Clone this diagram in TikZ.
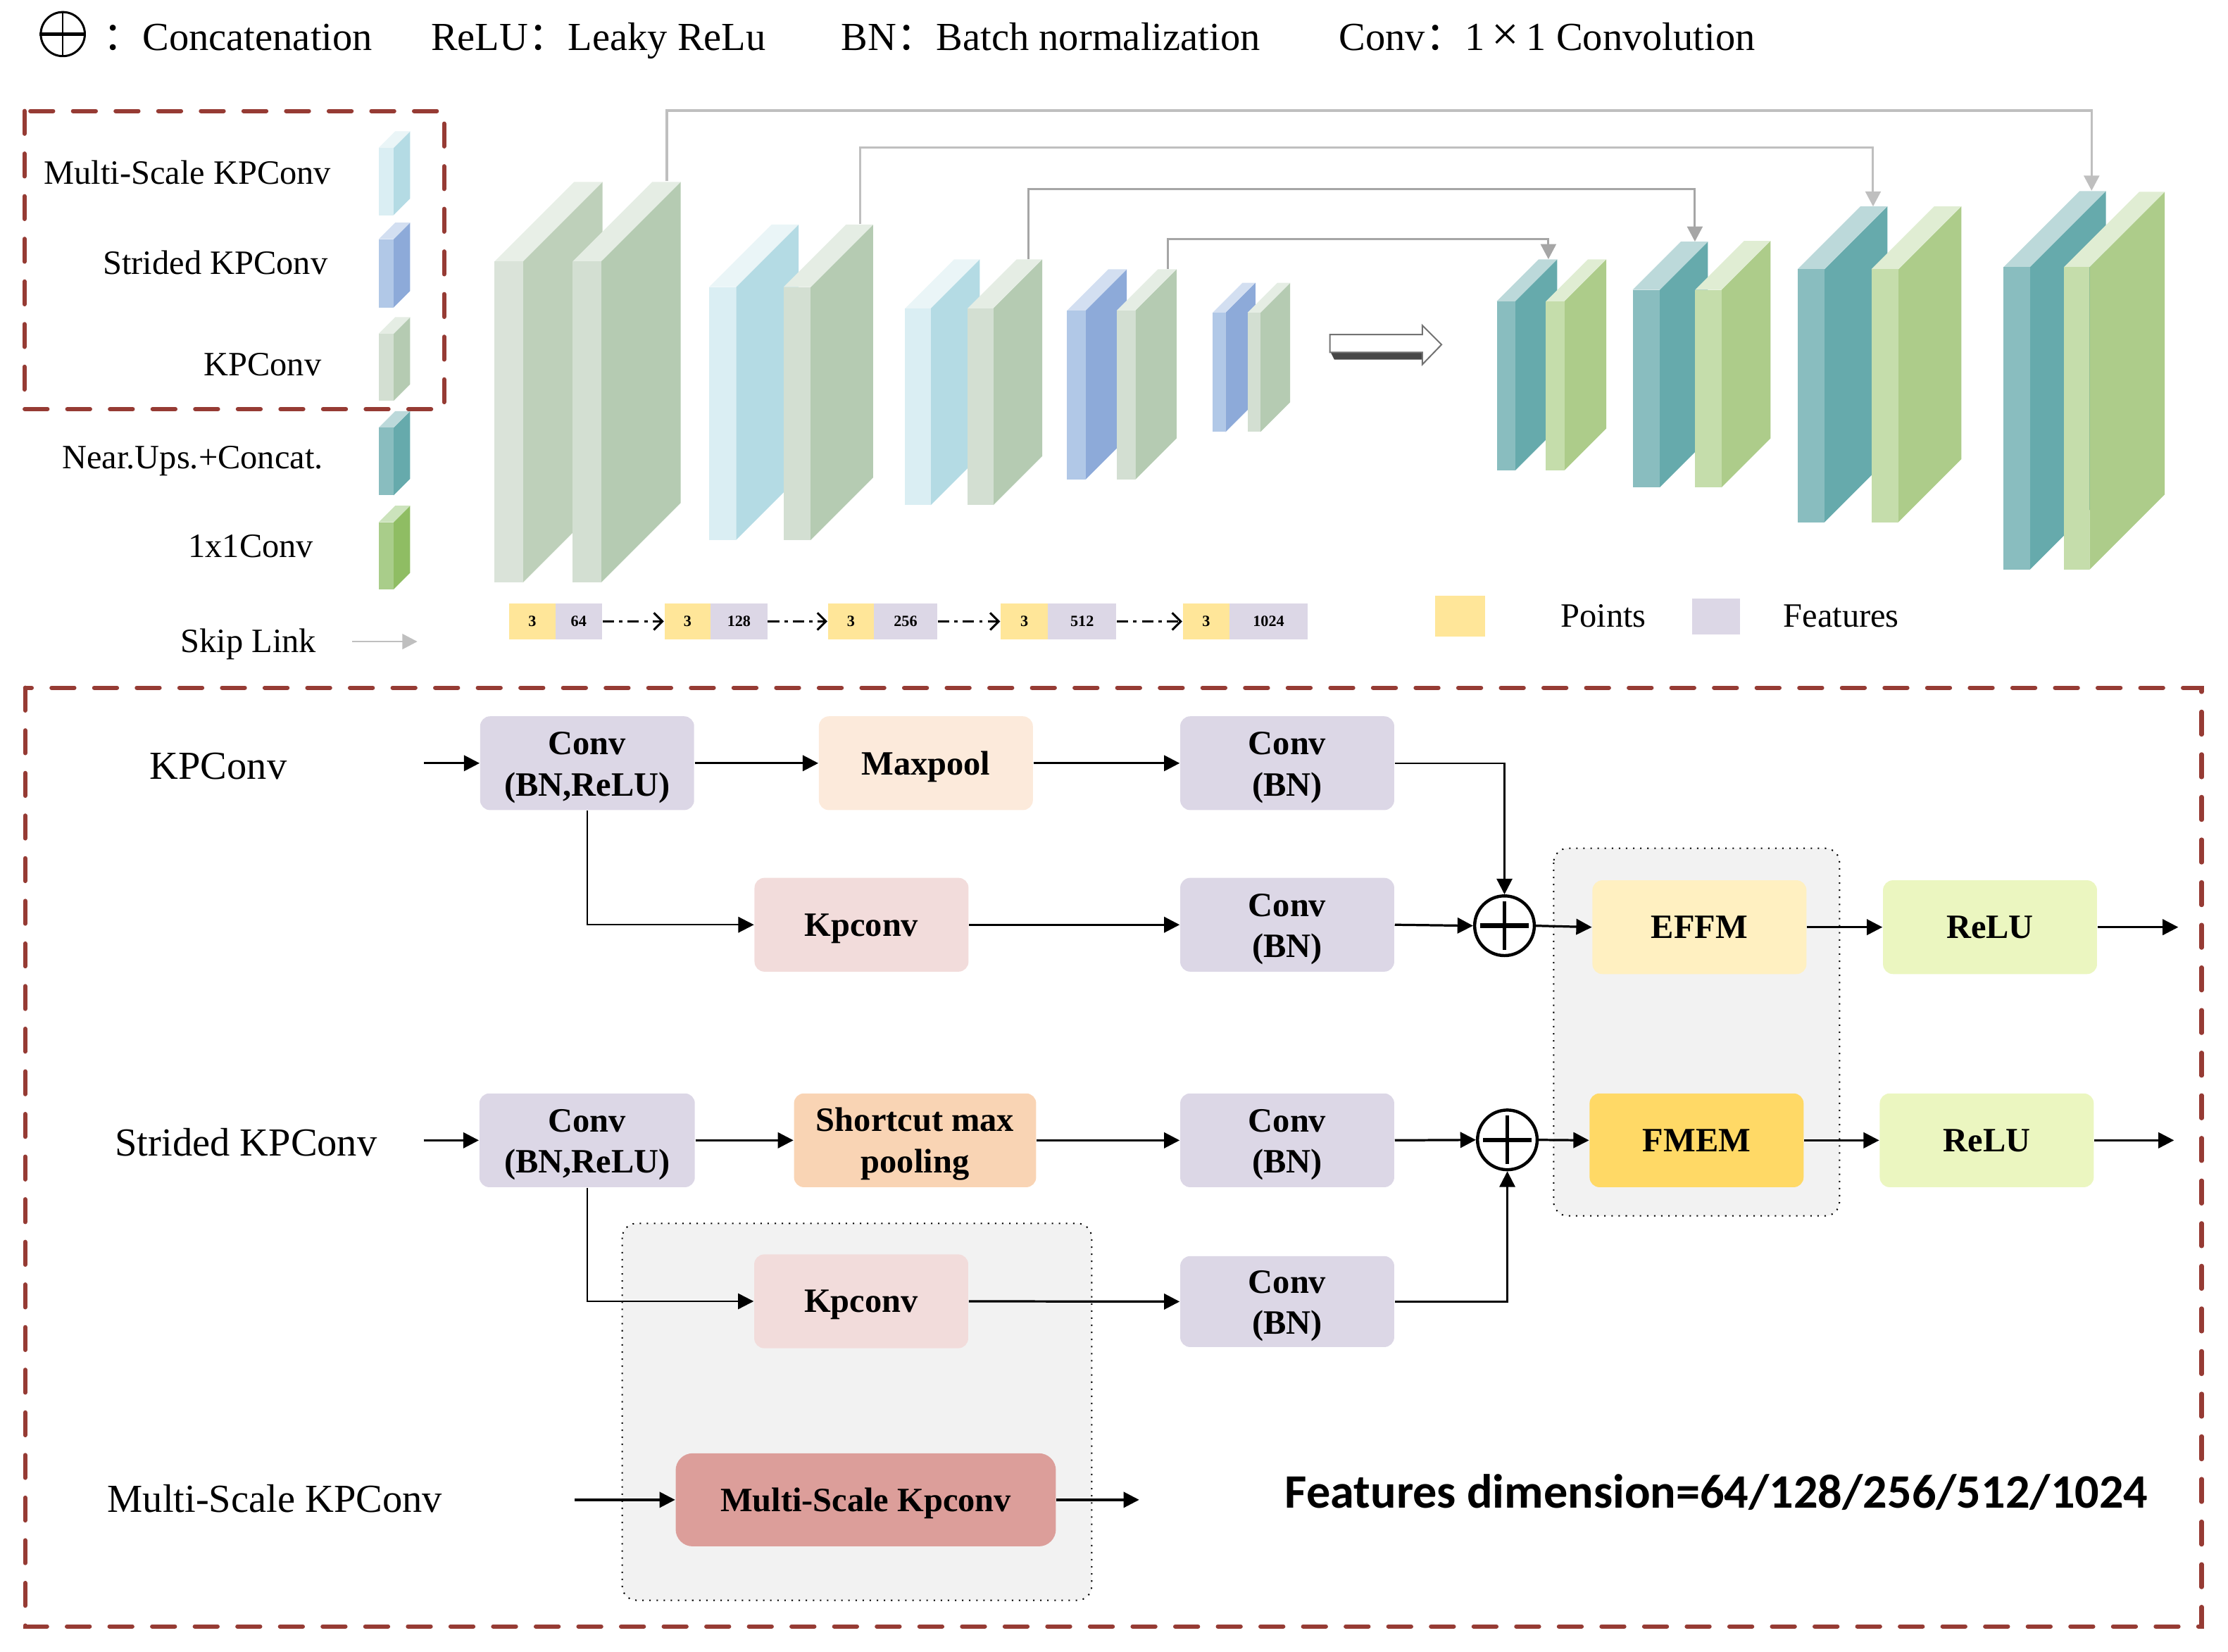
\documentclass[tikz,border=0pt]{standalone}
\usepackage{fontspec}
\setmainfont{Liberation Serif}
\newfontfamily\cjk{Noto Sans CJK SC}
\newfontfamily\carl{Carlito}
\usetikzlibrary{arrows.meta}
\definecolor{dashred}{RGB}{150,59,52}
\definecolor{lav}{RGB}{220,215,230}
\definecolor{ptyel}{RGB}{255,230,153}
\definecolor{maxc}{RGB}{252,234,219}
\definecolor{kpc}{RGB}{242,220,219}
\definecolor{smpc}{RGB}{249,212,180}
\definecolor{effmc}{RGB}{255,240,193}
\definecolor{fmemc}{RGB}{255,217,102}
\definecolor{reluc}{RGB}{235,246,192}
\definecolor{mskc}{RGB}{220,158,154}
\definecolor{grp}{RGB}{242,242,242}
\definecolor{skipA}{RGB}{191,191,191}
\definecolor{skipB}{RGB}{166,166,166}
\definecolor{kpF}{RGB}{211,223,210}\definecolor{kpS}{RGB}{181,203,178}\definecolor{kpT}{RGB}{229,237,228}
\definecolor{kqF}{RGB}{218,227,217}\definecolor{kqS}{RGB}{190,208,186}\definecolor{kqT}{RGB}{232,239,231}
\definecolor{msF}{RGB}{218,238,243}\definecolor{msS}{RGB}{180,219,228}\definecolor{msT}{RGB}{234,245,247}
\definecolor{stF}{RGB}{177,200,231}\definecolor{stS}{RGB}{141,170,217}\definecolor{stT}{RGB}{211,223,241}
\definecolor{tlF}{RGB}{137,189,191}\definecolor{tlS}{RGB}{102,170,172}\definecolor{tlT}{RGB}{188,217,218}
\definecolor{gnF}{RGB}{197,221,171}\definecolor{gnS}{RGB}{173,204,138}\definecolor{gnT}{RGB}{224,237,211}
\definecolor{glF}{RGB}{169,205,138}\definecolor{glS}{RGB}{143,189,99}\definecolor{glT}{RGB}{204,227,188}
% x0, y0 (front top), y1 (front bottom), w, d, front, side, top
\newcommand{\drawblock}[8]{%
  \fill[#7] ({#1+#4},#2) -- ({#1+#4+#5},{#2-#5}) -- ({#1+#4+#5},{#3-#5}) -- ({#1+#4},#3) -- cycle;
  \fill[#8] (#1,#2) -- ({#1+#5},{#2-#5}) -- ({#1+#4+#5},{#2-#5}) -- ({#1+#4},#2) -- cycle;
  \fill[#6] (#1,#2) rectangle ({#1+#4},#3);}
\newcommand{\tstrut}{\rule{0pt}{11pt}}
\tikzset{
  lg/.style={inner sep=0, font=\fontsize{14}{16}\selectfont, anchor=base west},
  ll/.style={inner sep=0, font=\fontsize{12}{14}\selectfont, anchor=base east},
  bl/.style={inner sep=0, font=\fontsize{14}{16}\selectfont, anchor=base west},
  fbox/.style={rounded corners=3.5pt, inner sep=0, minimum width=75.3pt, minimum height=33pt, align=center, font=\bfseries\fontsize{12}{14.5}\selectfont},
  onel/.style={text depth=0pt},
  arr/.style={-{Triangle[length=5.5pt,width=5.5pt]}, line width=0.8pt},
  thinarr/.style={-{Triangle[length=5.5pt,width=5.5pt]}, line width=0.6pt},
  skipline/.style={line width=0.75pt, -{Triangle[length=5.3pt,width=5.4pt]}},
  dd/.style={line width=0.75pt, dash pattern=on 4pt off 1.8pt on 1.2pt off 1.8pt, -{Straight Barb[length=3pt,width=6pt]}},
  dimbox/.style={inner sep=0, minimum height=12.8pt, font=\bfseries\fontsize{5.5}{6}\selectfont},
  plusc/.style={circle, draw, line width=1.1pt, minimum size=21pt, inner sep=0},
  grpbox/.style={fill=grp, draw=black, dotted, line width=0.5pt, rounded corners=5pt},
  dashbox/.style={draw=dashred, line width=1.5pt, dash pattern=on 8pt off 7pt, line cap=round}
}
\begin{document}
\begin{tikzpicture}[x=0.5pt,y=-0.5pt]
\useasboundingbox (0,0) rectangle (1568,1162.6);
% ---------- top legend line ----------
\node[circle, draw, line width=0.75pt, minimum size=15.5pt, inner sep=0] (lplus) at (44.2,24) {};
\draw[line width=1.2pt] (lplus.west) -- (lplus.east);
\draw[line width=0.6pt] (lplus.north) -- (lplus.south);
\node[lg] (t1) at (72,35.2) {{\cjk ：}Concatenation};
\node[lg] (t2) at (303,35.2) {ReLU{\cjk ：}Leaky ReLu};
\node[lg] (t3) at (591.7,35.2) {BN{\cjk ：}Batch normalization};
\node[lg] (t4) at (942,35.2) {Conv{\cjk ：}1\kern2.5pt{\fontsize{17}{17}\selectfont ×}\kern2.5pt1 Convolution};
% ---------- left legend ----------
\drawblock{266.5}{104}{151.4}{10.5}{11.6}{msF}{msS}{msT}
\drawblock{266.5}{168.3}{216.4}{10.5}{11.6}{stF}{stS}{stT}
\drawblock{266.5}{234.8}{282}{10.5}{11.6}{kpF}{kpS}{kpT}
\drawblock{266.5}{301}{348.6}{10.5}{11.6}{tlF}{tlS}{tlT}
\drawblock{266.5}{367.5}{414.8}{10.5}{11.6}{glF}{glS}{glT}
\node[ll] (l1) at (233.3,129.4) {Multi-Scale KPConv};
\node[ll] (l2) at (231,193.1) {Strided KPConv};
\node[ll] (l3) at (226.6,264.4) {KPConv};
\node[ll] (l4) at (227.7,329.6) {Near.Ups.+Concat.};
\node[ll] (l5) at (221,392.3) {1x1Conv};
\node[ll] (l6) at (223,459) {Skip Link};
\coordinate (sk1) at (247.7,451.5);
\coordinate (sk2) at (293.7,451.5);
\draw[skipline, skipA, line width=0.6pt] (sk1) -- (sk2);
\draw[dashbox] (17.2,78.1) rectangle (312.5,287.9);
% ---------- encoder blocks ----------
\drawblock{348}{184}{410}{20}{56}{kqF}{kqS}{kqT}
\drawblock{403}{184}{410}{20}{56}{kpF}{kpS}{kpT}
\drawblock{499}{202}{380}{19}{44}{msF}{msS}{msT}
\drawblock{551.5}{202}{380}{19}{44}{kpF}{kpS}{kpT}
\drawblock{637}{217}{355.5}{18}{34.5}{msF}{msS}{msT}
\drawblock{681}{217}{355.5}{18}{34.5}{kpF}{kpS}{kpT}
\drawblock{751}{218.5}{337.5}{13}{29}{stF}{stS}{stT}
\drawblock{786}{218.5}{337.5}{13}{29}{kpF}{kpS}{kpT}
\drawblock{853.5}{220}{304}{9}{21}{stF}{stS}{stT}
\drawblock{878}{220}{304}{9}{21}{kpF}{kpS}{kpT}
% ---------- decoder blocks ----------
\drawblock{1053.4}{212}{331}{13}{29.5}{tlF}{tlS}{tlT}
\drawblock{1088}{212}{331}{13}{29.5}{gnF}{gnS}{gnT}
\drawblock{1149}{204}{343}{19}{34}{tlF}{tlS}{tlT}
\drawblock{1193}{204}{343}{18.5}{34.5}{gnF}{gnS}{gnT}
\drawblock{1265}{189.5}{367.5}{19}{44.3}{tlF}{tlS}{tlT}
\drawblock{1317}{189.5}{367.5}{19}{44.3}{gnF}{gnS}{gnT}
\drawblock{1410}{188}{401}{18.5}{53.5}{tlF}{tlS}{tlT}
\drawblock{1452.5}{188}{401}{18}{53}{gnF}{gnS}{gnT}
% ---------- skip links ----------
\coordinate (s1a) at (469.3,127.4); \coordinate (s1m) at (469.3,77.8); \coordinate (s1b) at (1472,134.2);
\coordinate (s2a) at (605.5,157.5); \coordinate (s2m) at (605.5,103.7); \coordinate (s2b) at (1318.2,145.3);
\coordinate (s3a) at (724,182.3); \coordinate (s3m) at (724,133); \coordinate (s3b) at (1192.8,170);
\coordinate (s4a) at (822,189.3); \coordinate (s4m) at (822,168.3); \coordinate (s4b) at (1089.7,182.4);
\draw[skipline, skipA] (s1a) -- (s1m) -| (s1b);
\draw[skipline, skipA] (s2a) -- (s2m) -| (s2b);
\draw[skipline, skipB] (s3a) -- (s3m) -| (s3b);
\draw[skipline, skipB] (s4a) -- (s4m) -| (s4b);
% ---------- big 3D arrow ----------
\fill[black!72] (936,247) -- (1001,247) -- (1001,253) -- (939,253) -- cycle;
\filldraw[fill=white, draw=black!55, line width=0.5pt] (936,235.5) -- (1001,235.5) -- (1001,229) -- (1014.5,242.5) -- (1001,256.5) -- (1001,248) -- (936,248) -- cycle;
% ---------- dimension row ----------
\node[dimbox, fill=ptyel, minimum width=16.2pt] (p1) at (374.6,437.3) {3};
\node[dimbox, fill=lav, minimum width=16.45pt] (f1) at (407.25,437.3) {64};
\node[dimbox, fill=ptyel, minimum width=16.25pt] (p2) at (483.85,437.3) {3};
\node[dimbox, fill=lav, minimum width=19.95pt] (f2) at (520.05,437.3) {128};
\node[dimbox, fill=ptyel, minimum width=16.2pt] (p3) at (598.9,437.3) {3};
\node[dimbox, fill=lav, minimum width=22.2pt] (f3) at (637.3,437.3) {256};
\node[dimbox, fill=ptyel, minimum width=16.6pt] (p4) at (720.9,437.3) {3};
\node[dimbox, fill=lav, minimum width=24.05pt] (f4) at (761.55,437.3) {512};
\node[dimbox, fill=ptyel, minimum width=16.45pt] (p5) at (848.85,437.3) {3};
\node[dimbox, fill=lav, minimum width=27.5pt] (f5) at (892.8,437.3) {1024};
\draw[dd] (f1.east) -- (p2.west);
\draw[dd] (f2.east) -- (p3.west);
\draw[dd] (f3.east) -- (p4.west);
\draw[dd] (f4.east) -- (p5.west);
\node[inner sep=0, fill=ptyel, minimum width=17.5pt, minimum height=14.5pt] (ptsw) at (1027.5,433.5) {};
\node[inner sep=0, fill=lav, minimum width=16.75pt, minimum height=12.75pt] (ftsw) at (1207.75,433.75) {};
\node[inner sep=0, anchor=base west, font=\fontsize{12}{14}\selectfont] (ptsl) at (1098,441.5) {Points};
\node[inner sep=0, anchor=base west, font=\fontsize{12}{14}\selectfont] (ftsl) at (1254.7,441.5) {Features};
% ---------- bottom section ----------
\draw[dashbox] (17.7,484) rectangle (1549.4,1144.6);
\draw[grpbox] (1093.4,597) rectangle (1294.6,855.7);
\draw[grpbox] (437.9,861) rectangle (768.3,1126.2);
\node[bl] (lb1) at (105,548.4) {KPConv};
\node[bl] (lb2) at (80.6,813.4) {Strided KPConv};
\node[bl] (lb3) at (75.2,1064.2) {Multi-Scale KPConv};
\node[fbox, fill=lav] (cbr1) at (413.2,537.1) {\tstrut Conv\\(BN,ReLU)};
\node[fbox, onel, fill=maxc] (maxp) at (651.6,537.1) {Maxpool};
\node[fbox, fill=lav] (cbn1) at (905.9,537.1) {\tstrut Conv\\(BN)};
\node[fbox, onel, fill=kpc] (kp1) at (606.3,650.8) {Kpconv};
\node[fbox, fill=lav] (cbn2) at (905.9,650.8) {\tstrut Conv\\(BN)};
\node[plusc] (plus1) at (1058.8,651.5) {};
\node[fbox, onel, fill=effmc] (effm) at (1196,652.5) {EFFM};
\node[fbox, onel, fill=reluc] (relu1) at (1400.5,652.5) {ReLU};
\node[fbox, fill=lav, minimum width=75.8pt] (cbr2) at (413.2,802.5) {\tstrut Conv\\(BN,ReLU)};
\node[fbox, fill=smpc, minimum width=85.2pt] (smp) at (644,802.5) {\tstrut Shortcut max\\pooling};
\node[fbox, fill=lav] (cbn3) at (905.9,802.5) {\tstrut Conv\\(BN)};
\node[plusc] (plus2) at (1060.8,802.2) {};
\node[fbox, onel, fill=fmemc] (fmem) at (1194,802.5) {FMEM};
\node[fbox, onel, fill=reluc] (relu2) at (1398.2,802.5) {ReLU};
\node[fbox, onel, fill=kpc] (kp2) at (606.1,915.8) {Kpconv};
\node[fbox, fill=lav, minimum height=32pt] (cbn4) at (905.9,916) {\tstrut Conv\\(BN)};
\node[fbox, onel, fill=mskc, minimum width=133.8pt, minimum height=32.75pt, rounded corners=6pt] (mskp) at (609.3,1055.5) {Multi-Scale Kpconv};
\foreach \p in {plus1,plus2}{
  \draw[line width=1.6pt] ([xshift=-8.5pt]\p.center) -- ([xshift=8.5pt]\p.center);
  \draw[line width=1.3pt] ([yshift=-8.5pt]\p.center) -- ([yshift=8.5pt]\p.center);
}
\coordinate (in1) at (298.4,537.1);
\coordinate (in2) at (298.2,802.5);
\coordinate (in3) at (404.6,1055.5);
\coordinate (out1) at (1533,652.5);
\coordinate (out2) at (1530,802.5);
\coordinate (out3) at (801.7,1055.5);
\draw[arr] (in1) -- (cbr1.west);
\draw[arr] (cbr1.east) -- (maxp.west);
\draw[arr] (maxp.east) -- (cbn1.west);
\draw[thinarr] (cbn1.east) -| (plus1.north);
\draw[thinarr] (cbr1.south) |- (kp1.west);
\draw[arr] (kp1.east) -- (cbn2.west);
\draw[arr] (cbn2.east) -- (plus1.west);
\draw[arr] (plus1.east) -- (effm.west);
\draw[arr] (effm.east) -- (relu1.west);
\draw[arr] (relu1.east) -- (out1);
\draw[arr] (in2) -- (cbr2.west);
\draw[arr] (cbr2.east) -- (smp.west);
\draw[arr] (smp.east) -- (cbn3.west);
\draw[arr] (cbn3.east) -- (plus2.west);
\draw[arr] (plus2.east) -- (fmem.west);
\draw[arr] (fmem.east) -- (relu2.west);
\draw[arr] (relu2.east) -- (out2);
\draw[thinarr] (cbr2.south) |- (kp2.west);
\draw[arr] (kp2.east) -- (cbn4.west);
\draw[thinarr] (cbn4.east) -| (plus2.south);
\draw[arr] (in3) -- (mskp.west);
\draw[arr] (mskp.east) -- (out3);
\node[inner sep=0, anchor=base west, font=\carl\bfseries\fontsize{16.9}{18}\selectfont] (fdim) at (904,1061.3) {Features dimension=64/128/256/512/1024};
\end{tikzpicture}
\end{document}
